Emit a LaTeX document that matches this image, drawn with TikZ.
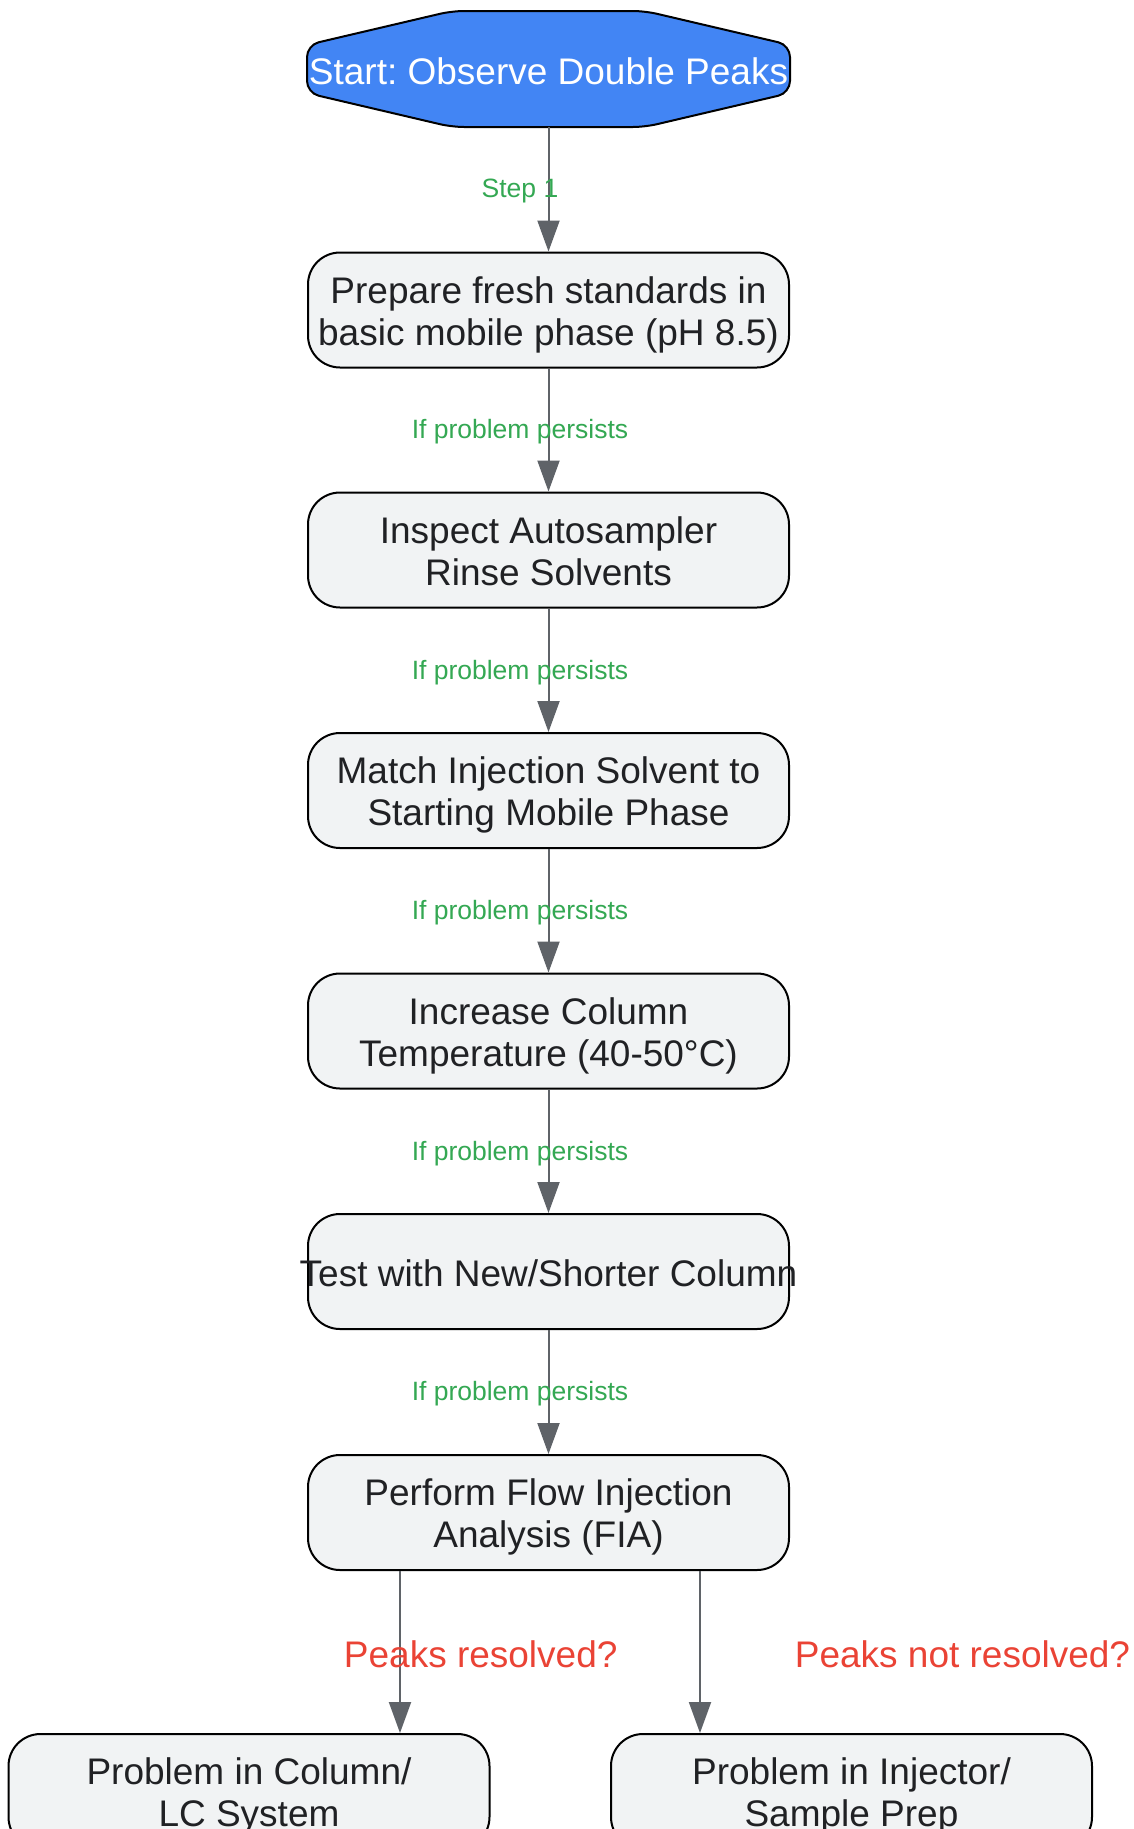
\documentclass[tikz,border=0pt]{standalone}
\usepackage{fontspec}
\setmainfont{Liberation Sans}
\usetikzlibrary{arrows.meta}
\definecolor{nodefill}{HTML}{F1F3F4}
\definecolor{startblue}{HTML}{4285F4}
\definecolor{arrgray}{HTML}{5F6368}
\definecolor{lblgreen}{HTML}{34A853}
\definecolor{lblred}{HTML}{EA4335}
\definecolor{txt}{HTML}{202124}
\frenchspacing
\begin{document}
\begin{tikzpicture}[x=1pt,y=-1pt,
 box/.style={draw=black, line width=2pt, fill=nodefill, rounded corners=32pt, minimum width=481pt, minimum height=115pt, inner sep=0pt},
 btxt/.style={inner sep=0pt, align=center, text=txt, font=\fontsize{37}{42}\selectfont, execute at begin node=\strut, execute at end node=\strut},
 arr/.style={draw=arrgray, line width=2pt, -{Triangle[length=31pt,width=22pt]}},
 glabel/.style={text=lblgreen, font=\fontsize{26.5}{30}\selectfont, inner sep=0pt, yshift=-2pt},
 rlabel/.style={text=lblred, font=\fontsize{37}{42}\selectfont, inner sep=0pt, yshift=-2.3pt}]
\useasboundingbox[fill=white] (0,0) rectangle (1134,1829);
\clip (0,0) rectangle (1134,1829);
\draw[line width=2pt, fill=startblue, rounded corners=12pt] (307,45) -- (452,11) -- (645,11) -- (790,45) -- (790,93) -- (645,127) -- (452,127) -- (307,93) -- cycle;
\node[minimum width=483pt, minimum height=116pt, inner sep=0pt] (start) at (548.5,69) {};
\node[btxt, text=white] (startt) at (548.5,75.8) {\makebox[0pt]{Start: Observe Double Peaks}};
\node[box] (n2) at (548.5,310) {};
\node[btxt] (n2t) at (548.5,317) {Prepare fresh standards in\\basic mobile phase (pH 8.5)};
\node[box] (n3) at (548.5,550) {};
\node[btxt] (n3t) at (548.5,557) {Inspect Autosampler\\Rinse Solvents};
\node[box] (n4) at (548.5,790.5) {};
\node[btxt] (n4t) at (548.5,797.5) {Match Injection Solvent to\\Starting Mobile Phase};
\node[box] (n5) at (548.5,1031) {};
\node[btxt] (n5t) at (548.5,1038) {Increase Column\\Temperature (40-50°C)};
\node[box] (n6) at (548.5,1271.5) {};
\node[btxt] (n6t) at (548.5,1278.3) {\makebox[0pt]{Test with New/Shorter Column}};
\node[box] (n7) at (548.5,1512.5) {};
\node[btxt] (n7t) at (548.5,1519.5) {Perform Flow Injection\\Analysis (FIA)};
\node[box] (b1) at (249,1791.5) {};
\node[btxt] (b1t) at (249,1798.5) {Problem in Column/\\LC System};
\node[box] (b2) at (851.5,1791.5) {};
\node[btxt] (b2t) at (851.5,1798.5) {Problem in Injector/\\Sample Prep};
\draw[arr] (start) -- node[glabel, xshift=-28.5pt]{Step 1} (n2);
\draw[arr] (n2) -- node[glabel, xshift=-28.5pt]{If problem persists} (n3);
\draw[arr] (n3) -- node[glabel, xshift=-28.5pt]{If problem persists} (n4);
\draw[arr] (n4) -- node[glabel, xshift=-28.5pt]{If problem persists} (n5);
\draw[arr] (n5) -- node[glabel, xshift=-28.5pt]{If problem persists} (n6);
\draw[arr] (n6) -- node[glabel, xshift=-28.5pt]{If problem persists} (n7);
\coordinate (cl) at (400,1650);
\coordinate (cr) at (700,1650);
\draw[arr] (n7.south -| cl) -- node[rlabel, xshift=80.7pt]{Peaks resolved?} (b1.north -| cl);
\draw[arr] (n7.south -| cr) -- node[rlabel, xshift=262.5pt]{Peaks not resolved?} (b2.north -| cr);
\end{tikzpicture}
\end{document}
